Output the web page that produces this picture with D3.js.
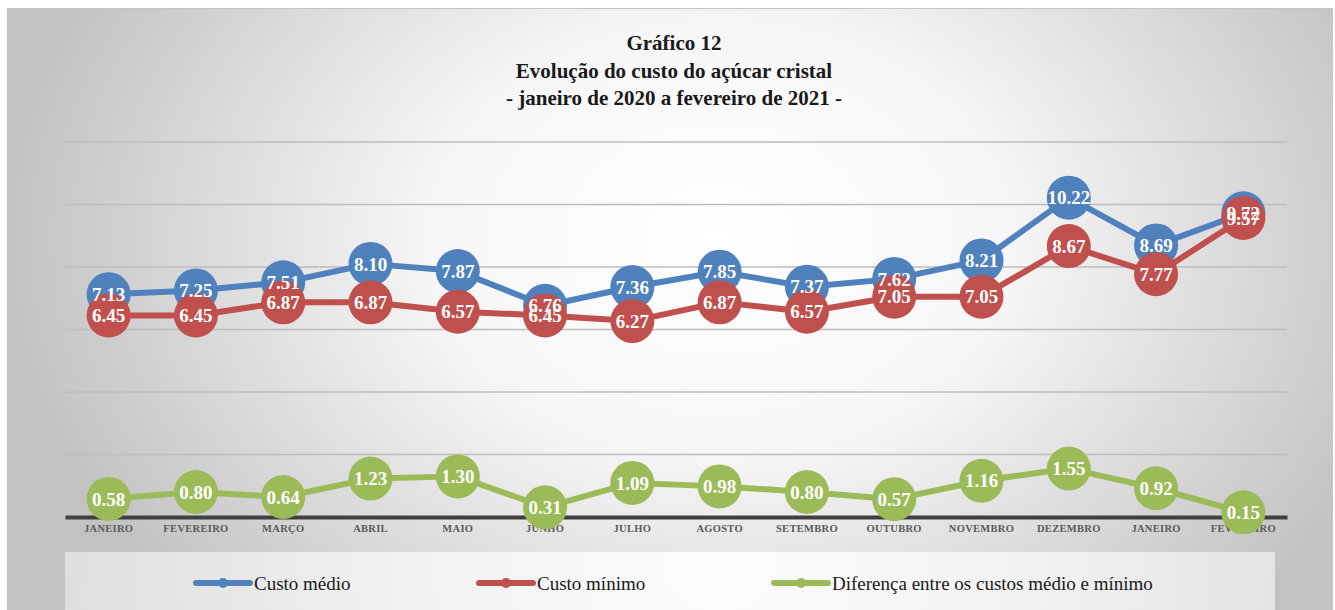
<!DOCTYPE html>
<html><head><meta charset="utf-8">
<script src="https://cdn.jsdelivr.net/npm/d3@7/dist/d3.min.js"></script>
<style>
html,body{margin:0;padding:0;background:#fff;}
svg{display:block;}
</style></head>
<body>
<svg id="chart" width="1335" height="610"></svg>
<script>
const months = ["JANEIRO","FEVEREIRO","MARÇO","ABRIL","MAIO","JUNHO","JULHO","AGOSTO","SETEMBRO","OUTUBRO","NOVEMBRO","DEZEMBRO","JANEIRO","FEVEREIRO"];
const custoMedio = [7.13,7.25,7.51,8.10,7.87,6.76,7.36,7.85,7.37,7.62,8.21,10.22,8.69,9.72];
const custoMinimo = [6.45,6.45,6.87,6.87,6.57,6.45,6.27,6.87,6.57,7.05,7.05,8.67,7.77,9.57];
const diferenca = [0.58,0.80,0.64,1.23,1.30,0.31,1.09,0.98,0.80,0.57,1.16,1.55,0.92,0.15];
const seriesNames = ["Custo médio","Custo mínimo","Diferença entre os custos médio e mínimo"];
const yTicks = [0,2,4,6,8,10,12];
const titleLines = ["Gráfico 12","Evolução do custo do açúcar cristal","- janeiro de 2020 a fevereiro de 2021 -"];

const colors = ["#4F81BD","#C0504D","#9BBB59"];
const font = "'Liberation Serif','Times New Roman',serif";
const svg = d3.select("#chart");
const defs = svg.append("defs");
const rg = defs.append("radialGradient").attr("id","bg").attr("gradientUnits","userSpaceOnUse")
  .attr("cx",720).attr("cy",240).attr("r",720).attr("gradientTransform","translate(720,240) scale(1,0.75) translate(-720,-240)");
rg.append("stop").attr("offset","0").attr("stop-color","#ffffff");
rg.append("stop").attr("offset","0.4").attr("stop-color","#f6f6f6");
rg.append("stop").attr("offset","1").attr("stop-color","#c2c2c2");
const rg2 = defs.append("radialGradient").attr("id","bg2").attr("gradientUnits","userSpaceOnUse")
  .attr("cx",720).attr("cy",560).attr("r",700);
rg2.append("stop").attr("offset","0").attr("stop-color","#fcfcfc");
rg2.append("stop").attr("offset","0.4").attr("stop-color","#f3f3f3");
rg2.append("stop").attr("offset","1").attr("stop-color","#dcdcdc");

svg.append("rect").attr("x",0).attr("y",0).attr("width",1335).attr("height",610).attr("fill","#ffffff");
svg.append("rect").attr("x",7.5).attr("y",8.5).attr("width",1325).attr("height",610)
  .attr("fill","url(#bg)").attr("stroke","#c4c4c4").attr("stroke-width",1);

// title
svg.append("g").selectAll("text").data(titleLines).join("text")
  .attr("x",674).attr("y",(d,i)=>50+i*27.5)
  .attr("text-anchor","middle").attr("font-family",font).attr("font-weight","bold")
  .attr("font-size",21).attr("fill","#1a1a1a").text(d=>d);

const x = d3.scaleBand().domain(d3.range(months.length)).range([65,1287]);
const y = d3.scaleLinear().domain([0,12]).range([517,142]);
const cx = i => x(i) + x.bandwidth()/2;

// gridlines
svg.append("g").selectAll("line").data(yTicks.filter(t=>t>0)).join("line")
  .attr("x1",65).attr("x2",1287).attr("y1",d=>y(d)).attr("y2",d=>y(d))
  .attr("stroke","#bdbdbd").attr("stroke-width",1.5);

// x axis
const xAxis = d3.axisBottom(x).tickSize(0).tickFormat(i=>months[i]);
const gx = svg.append("g").attr("transform",`translate(0,${y(0)})`).call(xAxis);
gx.select(".domain").attr("stroke","#404040").attr("stroke-width",4);
gx.selectAll("text").attr("font-family",font).attr("font-weight","bold").attr("font-size",10.5)
  .attr("fill","#595959").attr("dy","1.1em").attr("letter-spacing","0.3");

// legend box
svg.append("rect").attr("x",65).attr("y",552).attr("width",1210).attr("height",70).attr("fill","url(#bg2)");

const allSeries = [custoMedio, custoMinimo, diferenca];
const line = d3.line().x((d,i)=>cx(i)).y(d=>y(d));
const gSeries = svg.append("g");
allSeries.forEach((s,k)=>{
  const g = gSeries.append("g");
  g.append("path").datum(s).attr("d",line).attr("fill","none")
    .attr("stroke",colors[k]).attr("stroke-width",6).attr("stroke-linejoin","round");
  g.selectAll("circle").data(s).join("circle")
    .attr("cx",(d,i)=>cx(i)).attr("cy",d=>y(d)).attr("r",22).attr("fill",colors[k]);
});
const gLabels = svg.append("g");
allSeries.forEach((s,k)=>{
  gLabels.append("g").selectAll("text").data(s).join("text")
    .attr("x",(d,i)=>cx(i)).attr("y",d=>y(d)).attr("dy","0.35em")
    .attr("text-anchor","middle").attr("font-family",font).attr("font-weight","bold")
    .attr("font-size",19).attr("fill","#ffffff").text(d=>d.toFixed(2));
});

// legend
const legX = [194,477,772];
const lg = svg.append("g");
seriesNames.forEach((n,k)=>{
  const g = lg.append("g").attr("transform",`translate(${legX[k]},583)`);
  g.append("line").attr("x1",2).attr("x2",56).attr("y1",0).attr("y2",0)
    .attr("stroke",colors[k]).attr("stroke-width",6).attr("stroke-linecap","round");
  g.append("circle").attr("cx",29).attr("cy",0).attr("r",5).attr("fill",colors[k]);
  g.append("text").attr("x",60).attr("y",0).attr("dy","0.35em").attr("font-family",font)
    .attr("font-size",19).attr("fill","#1a1a1a").text(n);
});
</script>
</body></html>
